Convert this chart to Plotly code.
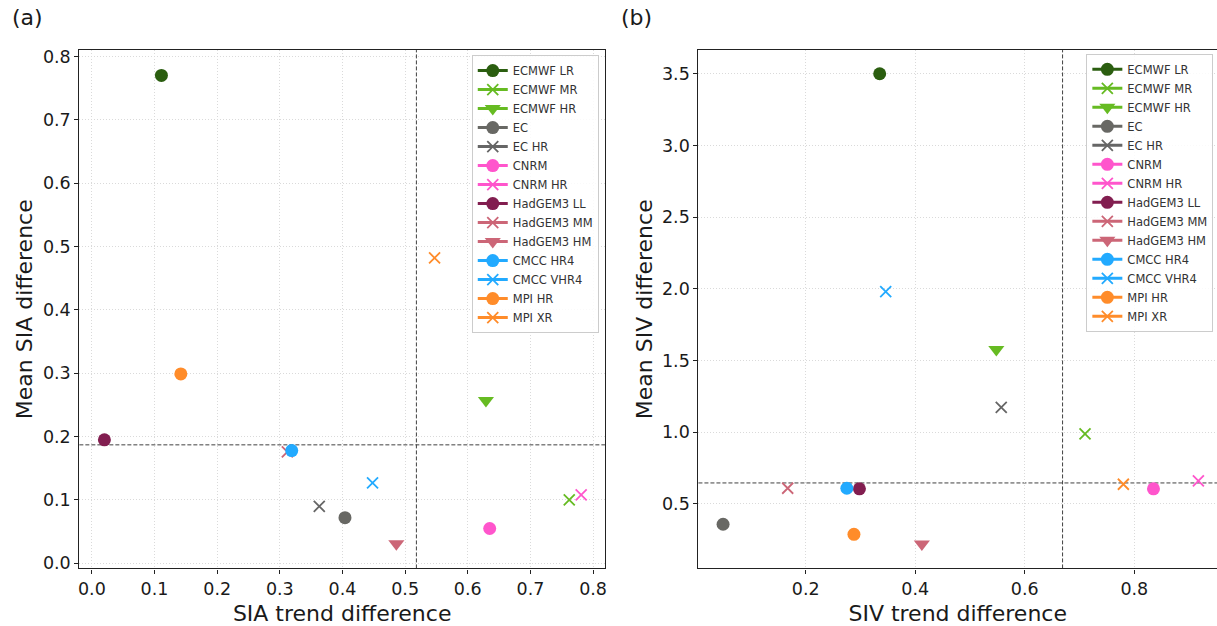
import plotly.graph_objects as go

# Model configurations (legend order)
models = ["ECMWF LR", "ECMWF MR", "ECMWF HR", "EC", "EC HR", "CNRM", "CNRM HR",
          "HadGEM3 LL", "HadGEM3 MM", "HadGEM3 HM", "CMCC HR4", "CMCC VHR4",
          "MPI HR", "MPI XR"]
colors = ["#2b5e10", "#66bb22", "#66bb22", "#686864", "#666666", "#ff55cc", "#ff55cc",
          "#821e50", "#cc6677", "#cc6677", "#22aaff", "#22aaff", "#ff8c2a", "#ff8c2a"]
symbols = ["circle", "x-thin", "triangle-down", "circle", "x-thin", "circle", "x-thin",
           "circle", "x-thin", "triangle-down", "circle", "x-thin", "circle", "x-thin"]

# Panel (a): sea-ice area
sia_trend_diff = [0.111, 0.762, 0.629, 0.404, 0.363, 0.635, 0.781,
                  0.020, 0.312, 0.486, 0.319, 0.448, 0.142, 0.547]
sia_mean_diff = [0.770, 0.100, 0.257, 0.072, 0.090, 0.055, 0.108,
                 0.195, 0.176, 0.031, 0.178, 0.127, 0.299, 0.482]
sia_ref_trend = 0.518
sia_ref_mean = 0.187

# Panel (b): sea-ice volume
siv_trend_diff = [0.335, 0.710, 0.548, 0.049, 0.557, 0.835, 0.917,
                  0.298, 0.167, 0.412, 0.275, 0.346, 0.288, 0.780]
siv_mean_diff = [3.500, 0.988, 1.577, 0.358, 1.173, 0.605, 0.660,
                 0.605, 0.609, 0.221, 0.609, 1.981, 0.288, 0.637]
siv_ref_trend = 0.669
siv_ref_mean = 0.646

FONT = "DejaVu Sans"
TXT = "#1a1a1a"

fig = go.Figure()


def marker_style(sym, col):
    if sym == "x-thin":
        return dict(symbol=sym, size=11, color=col, line=dict(width=1.8, color=col))
    if sym == "triangle-down":
        return dict(symbol=sym, size=14, color=col, line=dict(width=0))
    return dict(symbol=sym, size=13, color=col, line=dict(width=0))


for xs, ys, xa, ya, leg in [(sia_trend_diff, sia_mean_diff, "x", "y", "legend"),
                            (siv_trend_diff, siv_mean_diff, "x2", "y2", "legend2")]:
    for name, col, sym, xv, yv in zip(models, colors, symbols, xs, ys):
        fig.add_trace(go.Scatter(
            x=[xv], y=[yv], name=name, mode="lines+markers",
            marker=marker_style(sym, col), line=dict(color=col, width=3),
            xaxis=xa, yaxis=ya, legend=leg, showlegend=True,
        ))

# Reference dashed lines
dash_line = dict(color="#404040", width=1, dash="4px,2px")
fig.add_shape(type="line", xref="x", yref="y domain", x0=sia_ref_trend, x1=sia_ref_trend,
              y0=0, y1=1, line=dash_line, layer="below")
fig.add_shape(type="line", xref="x domain", yref="y", x0=0, x1=1,
              y0=sia_ref_mean, y1=sia_ref_mean, line=dash_line, layer="below")
fig.add_shape(type="line", xref="x2", yref="y2 domain", x0=siv_ref_trend, x1=siv_ref_trend,
              y0=0, y1=1, line=dash_line, layer="below")
fig.add_shape(type="line", xref="x2 domain", yref="y2", x0=0, x1=1,
              y0=siv_ref_mean, y1=siv_ref_mean, line=dash_line, layer="below")

axis_common = dict(
    showline=True, linecolor="#222222", linewidth=1.2,
    ticks="outside", ticklen=4, tickwidth=1, tickcolor="#222222",
    showgrid=True, gridcolor="#dadada", gridwidth=0.8, griddash="1px,2px",
    zeroline=False, tickfont=dict(family=FONT, size=17.5, color=TXT),
    automargin=False,
)
title_font = dict(family=FONT, size=22, color=TXT)

fig.update_layout(
    width=1217, height=626,
    margin=dict(l=0, r=0, t=0, b=0),
    paper_bgcolor="white", plot_bgcolor="white",
    font=dict(family=FONT, color=TXT),
    xaxis=dict(axis_common, domain=[0.0652, 0.4971], range=[-0.02, 0.819],
               tickvals=[0, 0.1, 0.2, 0.3, 0.4, 0.5, 0.6, 0.7, 0.8], tickformat=".1f",
               mirror=True, anchor="y",
               title=dict(text="SIA trend difference", font=title_font, standoff=8)),
    yaxis=dict(axis_common, domain=[0.092, 0.920], range=[-0.008, 0.81],
               tickvals=[0, 0.1, 0.2, 0.3, 0.4, 0.5, 0.6, 0.7, 0.8], tickformat=".1f",
               mirror=True, anchor="x",
               title=dict(text="Mean SIA difference", font=title_font, standoff=4)),
    xaxis2=dict(axis_common, domain=[0.5739, 1.0], range=[0.004, 0.951],
                tickvals=[0.2, 0.4, 0.6, 0.8], tickformat=".1f",
                mirror=True, anchor="y2",
                title=dict(text="SIV trend difference", font=title_font, standoff=8)),
    yaxis2=dict(axis_common, domain=[0.092, 0.920], range=[0.05, 3.665],
                tickvals=[0.5, 1.0, 1.5, 2.0, 2.5, 3.0, 3.5], tickformat=".1f",
                mirror=False, anchor="x2",
                title=dict(text="Mean SIV difference", font=title_font, standoff=3)),
    legend=dict(x=0.492, y=0.912, xanchor="right", yanchor="top",
                font=dict(family=FONT, size=11.5, color="#333333"),
                bgcolor="rgba(255,255,255,0.85)", bordercolor="#cccccc", borderwidth=1,
                itemwidth=30, tracegroupgap=0),
    legend2=dict(x=0.997, y=0.914, xanchor="right", yanchor="top",
                 font=dict(family=FONT, size=11.5, color="#333333"),
                 bgcolor="rgba(255,255,255,0.85)", bordercolor="#cccccc", borderwidth=1,
                 itemwidth=30, tracegroupgap=0),
    annotations=[
        dict(text="(a)", x=0.0, y=1.0, xref="paper", yref="paper", xanchor="left",
             yanchor="top", xshift=10, yshift=-3, showarrow=False,
             font=dict(family=FONT, size=22, color=TXT)),
        dict(text="(b)", x=0.5739, y=1.0, xref="paper", yref="paper", xanchor="left",
             yanchor="top", xshift=-79, yshift=-3, showarrow=False,
             font=dict(family=FONT, size=22, color=TXT)),
    ],
)

fig.write_html("out.html")
